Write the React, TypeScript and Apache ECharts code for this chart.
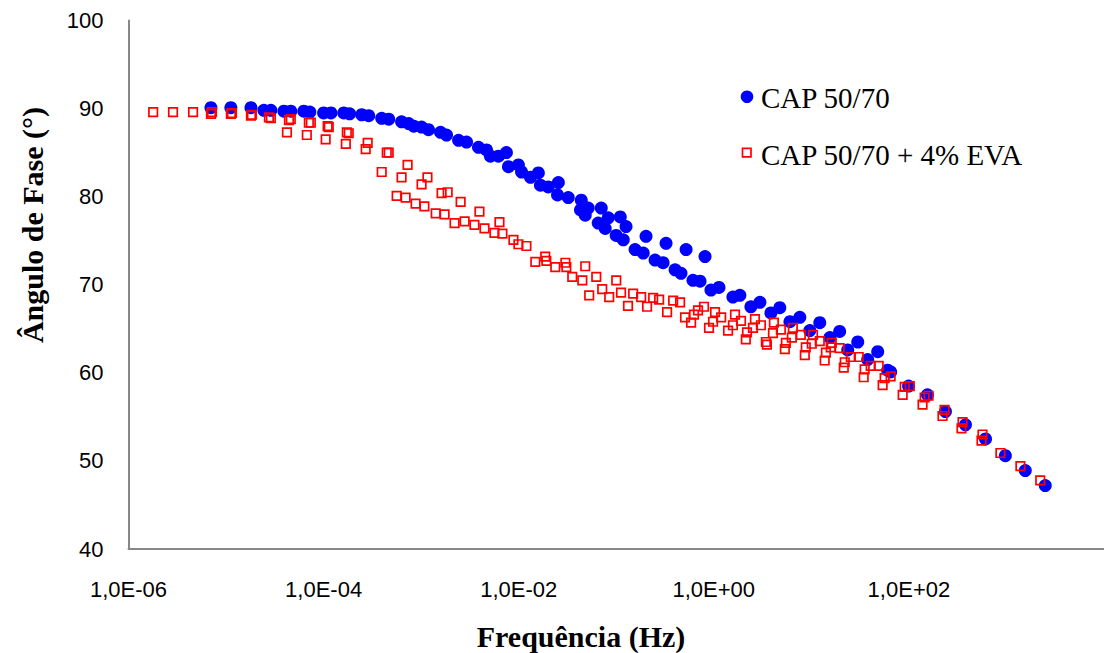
import React, { useEffect, useRef } from "react";
import * as echarts from "echarts";

// CAP 50/70 : frequency (Hz) and phase angle (°)
const capFreq = [
  7.0e-6, 1.12e-5, 1.8e-5, 2.44e-5, 2.88e-5, 3.92e-5, 4.61e-5, 6.27e-5, 7.23e-5, 1.0e-4,
  1.19e-4, 1.61e-4, 1.85e-4, 2.46e-4, 2.9e-4, 3.94e-4, 4.65e-4, 6.3e-4, 7.45e-4, 8.4e-4,
  1.01e-3, 1.19e-3, 1.58e-3, 1.82e-3, 2.42e-3, 2.92e-3, 3.87e-3, 4.68e-3, 5.13e-3, 6.19e-3,
  7.48e-3, 7.85e-3, 9.93e-3, 1.07e-2, 1.32e-2, 1.59e-2, 1.67e-2, 2.01e-2, 2.55e-2, 2.5e-2,
  3.22e-2, 4.38e-2, 4.3e-2, 5.16e-2, 4.81e-2, 7.02e-2, 6.53e-2, 8.28e-2, 7.71e-2, 0.11,
  0.0998, 0.126, 0.118, 0.202, 0.156, 0.189, 0.324, 0.25, 0.302, 0.52,
  0.401, 0.461, 0.813, 0.612, 0.723, 0.935, 1.13, 1.57, 1.85, 2.4,
  2.97, 3.85, 4.75, 6.03, 7.62, 9.64, 12.2, 15.5, 19.5, 23.6,
  29.9, 37.8, 47.9, 60.5, 65.0, 99.3, 155, 237, 380, 610,
  975, 1560, 2500,
];
const capAngle = [
  90.1, 90.1, 90.1, 89.8, 89.8, 89.7, 89.7, 89.7, 89.6, 89.5,
  89.5, 89.5, 89.4, 89.3, 89.2, 88.9, 88.8, 88.5, 88.3, 88.0,
  87.9, 87.6, 87.3, 87.0, 86.4, 86.2, 85.6, 85.3, 84.6, 84.6,
  85.0, 83.4, 83.6, 82.8, 82.2, 82.7, 81.3, 81.1, 81.6, 80.2,
  79.9, 79.6, 78.5, 78.7, 77.9, 78.7, 77.0, 77.6, 76.4, 77.7,
  75.6, 76.6, 75.1, 75.5, 74.0, 73.6, 74.7, 72.8, 72.5, 74.0,
  71.7, 71.3, 73.2, 70.5, 70.4, 69.4, 69.7, 68.6, 68.8, 67.5,
  68.0, 66.8, 67.4, 65.8, 66.3, 64.8, 65.7, 64.0, 64.7, 62.6,
  63.5, 61.5, 62.4, 60.3, 60.1, 58.5, 57.5, 55.6, 54.1, 52.5,
  50.6, 48.9, 47.2,
];

// CAP 50/70 + 4% EVA : frequency (Hz) and phase angle (°)
const evaFreq = [
  1.79e-6, 2.86e-6, 4.59e-6, 7.0e-6, 7.18e-6, 1.12e-5, 1.15e-5, 1.8e-5, 1.84e-5, 2.75e-5,
  2.88e-5, 4.21e-5, 4.41e-5, 4.61e-5, 6.73e-5, 7.06e-5, 7.4e-5, 1.05e-4, 1.1e-4, 1.13e-4,
  1.69e-4, 1.73e-4, 1.81e-4, 2.7e-4, 2.83e-4, 3.94e-4, 4.44e-4, 4.65e-4, 5.61e-4, 6.3e-4,
  6.93e-4, 7.26e-4, 8.77e-4, 1.01e-3, 1.08e-3, 1.16e-3, 1.41e-3, 1.62e-3, 1.74e-3, 1.87e-3,
  2.2e-3, 2.54e-3, 2.79e-3, 3.52e-3, 3.96e-3, 4.46e-3, 5.64e-3, 6.35e-3, 6.81e-3, 8.83e-3,
  9.93e-3, 1.2e-2, 1.48e-2, 1.87e-2, 1.92e-2, 2.37e-2, 3.01e-2, 3.08e-2, 3.54e-2, 4.49e-2,
  4.81e-2, 5.28e-2, 6.24e-2, 7.18e-2, 8.47e-2, 0.1, 0.112, 0.132, 0.149, 0.18,
  0.207, 0.239, 0.275, 0.332, 0.383, 0.451, 0.507, 0.585, 0.627, 0.689,
  0.794, 0.893, 0.982, 1.03, 1.19, 1.4, 1.57, 1.65, 1.9, 2.13,
  2.19, 2.52, 2.64, 3.04, 3.42, 3.5, 4.04, 4.13, 4.87, 5.35,
  5.48, 6.31, 6.46, 7.8, 8.57, 8.77, 10.1, 10.4, 12.2, 13.7,
  14.1, 15.8, 16.2, 19.5, 21.5, 22.0, 25.4, 30.6, 34.4, 35.2,
  40.6, 49.0, 53.8, 56.4, 65.0, 86.3, 90.6, 102, 138, 145,
  159, 221, 232, 346, 355, 555, 568, 867, 1390, 2220,
];
const evaAngle = [
  89.6, 89.6, 89.6, 89.4, 89.6, 89.4, 89.5, 89.2, 89.3, 89.0,
  88.9, 87.3, 88.7, 88.8, 87.0, 88.4, 88.4, 86.5, 88.0, 87.9,
  86.0, 87.3, 87.2, 85.4, 86.1, 82.8, 85.0, 85.0, 80.1, 82.2,
  79.9, 83.6, 79.2, 81.4, 78.9, 82.2, 78.1, 80.4, 78.0, 80.5,
  77.0, 79.4, 77.2, 76.8, 78.3, 76.4, 75.9, 77.1, 75.8, 75.1,
  74.6, 74.4, 72.6, 73.2, 72.7, 72.0, 72.5, 72.0, 70.9, 70.5,
  72.1, 68.8, 70.9, 69.5, 68.6, 70.5, 69.1, 67.6, 69.0, 68.6,
  67.5, 68.5, 68.3, 66.9, 68.2, 68.0, 66.3, 65.7, 66.6, 67.1,
  67.5, 65.1, 65.8, 66.9, 66.3, 64.8, 65.4, 66.6, 65.9, 63.8,
  64.6, 65.1, 66.1, 65.4, 63.5, 63.2, 64.5, 65.7, 64.9, 62.7,
  63.4, 64.0, 65.1, 64.3, 62.0, 62.9, 63.3, 64.3, 63.6, 61.4,
  62.3, 62.9, 63.4, 62.8, 60.6, 61.2, 61.8, 61.8, 59.5, 60.4,
  60.8, 60.8, 58.6, 59.4, 59.6, 57.5, 58.4, 58.5, 56.4, 57.2,
  57.4, 55.1, 55.8, 53.7, 54.4, 52.3, 53.0, 50.9, 49.4, 47.8,
];

const seriesNames = ["CAP 50/70", "CAP 50/70 + 4% EVA"];
const xTitle = "Frequência (Hz)";
const yTitle = "Ângulo de Fase (°)";
const yTicks = { min: 40, max: 100, step: 10 };
const xDecades = { min: -6, max: 4, step: 2, lastLabel: 2 };

function fmtExp(v: number): string {
  const e = Math.round(v);
  if (Math.abs(v - e) > 1e-9 || e > xDecades.lastLabel) return "";
  return "1,0E" + (e < 0 ? "-" : "+") + String(Math.abs(e)).padStart(2, "0");
}

export default function App() {
  const ref = useRef<HTMLDivElement>(null);
  useEffect(() => {
    if (!ref.current) return;
    const chart = echarts.init(ref.current, undefined, { renderer: "svg" });
    const sans = "Liberation Sans, Arial, sans-serif";
    const serif = "Liberation Serif, Times New Roman, serif";
    chart.setOption({
      animation: false,
      backgroundColor: "#ffffff",
      grid: { left: 128.5, top: 20.5, right: -3, bottom: 104, containLabel: false },
      xAxis: {
        type: "value",
        min: xDecades.min,
        max: xDecades.max,
        interval: xDecades.step,
        axisLine: { show: true, onZero: false, lineStyle: { color: "#878787", width: 2 } },
        axisTick: { show: false },
        splitLine: { show: false },
        axisLabel: {
          formatter: fmtExp,
          fontSize: 22,
          fontFamily: sans,
          color: "#000",
          margin: 29,
          showMaxLabel: false,
        },
      },
      yAxis: {
        type: "value",
        min: yTicks.min,
        max: yTicks.max,
        interval: yTicks.step,
        axisLine: { show: true, onZero: false, lineStyle: { color: "#878787", width: 2 } },
        axisTick: { show: false },
        splitLine: { show: false },
        axisLabel: { fontSize: 22, fontFamily: sans, color: "#000", margin: 25 },
      },
      series: [
        {
          name: seriesNames[0],
          type: "scatter",
          symbol: "circle",
          symbolSize: 13,
          itemStyle: { color: "#0000ff", opacity: 1 },
          data: capFreq.map((f, i) => [Math.log10(f), capAngle[i]]),
          z: 2,
        },
        {
          name: seriesNames[1],
          type: "scatter",
          symbol: "rect",
          symbolSize: 8.5,
          itemStyle: { color: "rgba(0,0,0,0)", borderColor: "#ff0000", borderWidth: 1.7, opacity: 1 },
          data: evaFreq.map((f, i) => [Math.log10(f), evaAngle[i]]),
          z: 3,
        },
      ],
      graphic: [
        {
          type: "text",
          x: 32,
          y: 225,
          rotation: Math.PI / 2,
          style: {
            text: yTitle,
            font: "bold 30px " + serif,
            fill: "#000",
            textAlign: "center",
            textVerticalAlign: "middle",
          },
        },
        {
          type: "text",
          x: 581,
          y: 636,
          style: {
            text: xTitle,
            font: "bold 30px " + serif,
            fill: "#000",
            textAlign: "center",
            textVerticalAlign: "middle",
          },
        },
        {
          type: "circle",
          shape: { cx: 747, cy: 96.7, r: 6.3 },
          style: { fill: "#0000ff" },
        },
        {
          type: "text",
          x: 761,
          y: 98,
          style: {
            text: seriesNames[0],
            font: "29px " + serif,
            fill: "#000",
            textAlign: "left",
            textVerticalAlign: "middle",
          },
        },
        {
          type: "rect",
          shape: { x: 742.5, y: 148.3, width: 8.5, height: 8.5 },
          style: { fill: "none", stroke: "#ff0000", lineWidth: 1.7 },
        },
        {
          type: "text",
          x: 761,
          y: 155,
          style: {
            text: seriesNames[1],
            font: "29px " + serif,
            fill: "#000",
            textAlign: "left",
            textVerticalAlign: "middle",
          },
        },
      ],
    });
    return () => chart.dispose();
  }, []);
  return (
    <div
      ref={ref}
      style={{ position: "absolute", left: 0, top: 0, width: 1104, height: 653, background: "#fff" }}
    />
  );
}
